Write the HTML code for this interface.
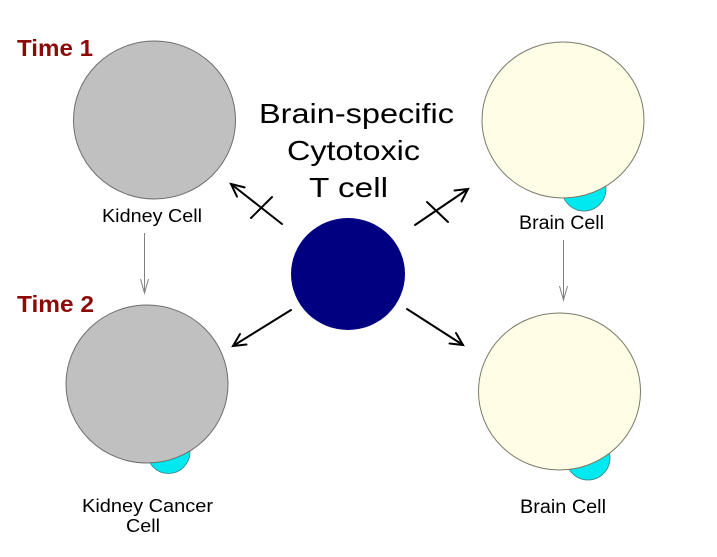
<!DOCTYPE html>
<html>
<head>
<meta charset="utf-8">
<style>
html,body{margin:0;padding:0;background:#fff;}
svg{display:block;}
text{font-family:"Liberation Sans",Arial,sans-serif;}
</style>
</head>
<body>
<svg width="717" height="557" viewBox="0 0 717 557" xmlns="http://www.w3.org/2000/svg">
  <rect width="717" height="557" fill="#fff"/>

  <!-- Time labels -->
  <text x="17" y="56" font-size="23" font-weight="bold" fill="#8b0a0a" textLength="76" lengthAdjust="spacingAndGlyphs">Time 1</text>
  <text x="17" y="312" font-size="23" font-weight="bold" fill="#8b0a0a" textLength="77" lengthAdjust="spacingAndGlyphs">Time 2</text>

  <!-- Top-left kidney cell -->
  <ellipse cx="154.5" cy="120" rx="81" ry="79" fill="#c0c0c0" stroke="#6e6e6e" stroke-width="1"/>
  <text x="102" y="222" font-size="18" fill="#000" textLength="100" lengthAdjust="spacingAndGlyphs">Kidney Cell</text>

  <!-- Bottom-left kidney cancer cell -->
  <circle cx="168.5" cy="452" r="21.5" fill="#00e8f0" stroke="#3a8a8a" stroke-width="0.8"/>
  <ellipse cx="147" cy="384" rx="81" ry="79" fill="#c0c0c0" stroke="#6e6e6e" stroke-width="1"/>
  <text x="82" y="512" font-size="18" fill="#000" textLength="131" lengthAdjust="spacingAndGlyphs">Kidney Cancer</text>
  <text x="126" y="532" font-size="18" fill="#000" textLength="34" lengthAdjust="spacingAndGlyphs">Cell</text>

  <!-- Top-right brain cell -->
  <circle cx="584" cy="189" r="22" fill="#00e8f0" stroke="#3a8a8a" stroke-width="0.8"/>
  <ellipse cx="563" cy="120" rx="81" ry="78" fill="#fffde6" stroke="#7a7a6a" stroke-width="1"/>
  <text x="519" y="229" font-size="19" fill="#000" textLength="85" lengthAdjust="spacingAndGlyphs">Brain Cell</text>

  <!-- Bottom-right brain cell -->
  <circle cx="588" cy="458" r="22" fill="#00e8f0" stroke="#3a8a8a" stroke-width="0.8"/>
  <ellipse cx="559.5" cy="391.5" rx="81" ry="78.5" fill="#fffde6" stroke="#7a7a6a" stroke-width="1"/>
  <text x="520" y="513" font-size="19" fill="#000" textLength="86" lengthAdjust="spacingAndGlyphs">Brain Cell</text>

  <!-- Gray time arrows -->
  <g stroke="#808080" stroke-width="1" fill="none">
    <line x1="144.5" y1="233" x2="144.5" y2="293"/>
    <polyline points="140.5,279 144.5,293 148.5,279"/>
    <line x1="563.5" y1="240" x2="563.5" y2="300"/>
    <polyline points="559.5,286 563.5,300 567.5,286"/>
  </g>

  <!-- Center text -->
  <text x="259" y="123" font-size="28" fill="#000" textLength="195" lengthAdjust="spacingAndGlyphs">Brain-specific</text>
  <text x="287" y="160" font-size="28" fill="#000" textLength="133" lengthAdjust="spacingAndGlyphs">Cytotoxic</text>
  <text x="309" y="197" font-size="28" fill="#000" textLength="79" lengthAdjust="spacingAndGlyphs">T cell</text>

  <!-- T cell -->
  <ellipse cx="348" cy="274" rx="57" ry="56" fill="#000080"/>

  <!-- Black arrows -->
  <g stroke="#000" stroke-width="2" fill="none" stroke-linecap="round">
    <!-- top-left (blocked) -->
    <line x1="282" y1="224" x2="231" y2="184"/>
    <polyline points="244.6,187.4 231,184 237,196.6"/>
    <line x1="251" y1="218" x2="272" y2="197"/>
    <!-- top-right (blocked) -->
    <line x1="415" y1="225" x2="468" y2="189"/>
    <polyline points="454.5,190.5 468,189 461.5,201.5"/>
    <line x1="427" y1="202" x2="448" y2="222"/>
    <!-- bottom-left -->
    <line x1="291" y1="310" x2="233" y2="346"/>
    <polyline points="240,334 233,346 246.5,344.5"/>
    <!-- bottom-right -->
    <line x1="407" y1="309" x2="463" y2="345"/>
    <polyline points="449.5,343.5 463,345 456,333"/>
  </g>
</svg>
</body>
</html>
